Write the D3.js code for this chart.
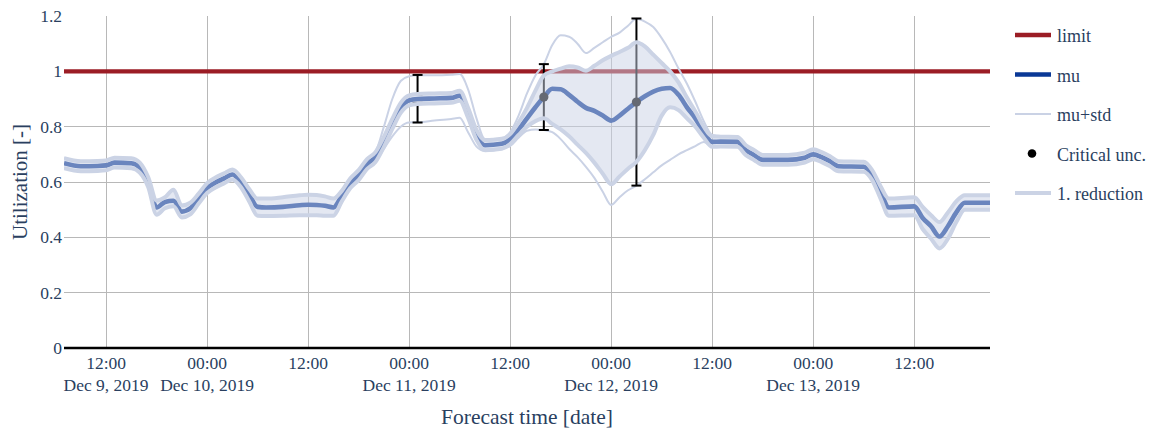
<!DOCTYPE html>
<html><head><meta charset="utf-8">
<script src="https://cdn.jsdelivr.net/npm/d3@7"></script>
<style>
body{margin:0;background:#fff}
svg{display:block}
</style>
</head><body>
<svg id="c" width="1151" height="432"></svg>
<script>
// ---------------- data ----------------
const times = [
"2019-12-09T07:00","2019-12-09T09:00","2019-12-09T11:00","2019-12-09T12:00","2019-12-09T13:00","2019-12-09T15:00",
"2019-12-09T16:00","2019-12-09T17:00","2019-12-09T18:00","2019-12-09T19:00","2019-12-09T20:00","2019-12-09T21:00",
"2019-12-09T22:00","2019-12-09T23:00","2019-12-10T00:00","2019-12-10T01:00","2019-12-10T02:00","2019-12-10T03:00",
"2019-12-10T04:00","2019-12-10T05:00","2019-12-10T06:00","2019-12-10T07:00","2019-12-10T09:00","2019-12-10T11:00",
"2019-12-10T12:00","2019-12-10T13:00","2019-12-10T14:00","2019-12-10T15:00","2019-12-10T16:00","2019-12-10T17:00",
"2019-12-10T18:00","2019-12-10T19:00","2019-12-10T20:00","2019-12-10T21:00","2019-12-10T22:00","2019-12-10T23:00",
"2019-12-11T00:00","2019-12-11T01:00","2019-12-11T03:00","2019-12-11T05:00","2019-12-11T06:00","2019-12-11T07:00",
"2019-12-11T08:00","2019-12-11T09:00","2019-12-11T11:00","2019-12-11T12:00","2019-12-11T13:00","2019-12-11T14:00",
"2019-12-11T15:00","2019-12-11T16:00","2019-12-11T17:00","2019-12-11T18:00","2019-12-11T19:00","2019-12-11T20:00",
"2019-12-11T21:00","2019-12-11T22:00","2019-12-11T23:00","2019-12-12T00:00","2019-12-12T01:00","2019-12-12T02:00",
"2019-12-12T03:00","2019-12-12T04:00","2019-12-12T05:00","2019-12-12T06:00","2019-12-12T07:00","2019-12-12T08:00",
"2019-12-12T09:00","2019-12-12T10:00","2019-12-12T11:00","2019-12-12T12:00","2019-12-12T13:00","2019-12-12T15:00",
"2019-12-12T16:00","2019-12-12T17:00","2019-12-12T18:00","2019-12-12T21:00","2019-12-12T23:00","2019-12-13T00:00",
"2019-12-13T01:00","2019-12-13T02:00","2019-12-13T03:00","2019-12-13T06:00","2019-12-13T07:00","2019-12-13T08:00",
"2019-12-13T09:00","2019-12-13T12:00","2019-12-13T13:00","2019-12-13T14:00","2019-12-13T15:00","2019-12-13T16:00",
"2019-12-13T17:00","2019-12-13T18:00","2019-12-13T21:00"
];
const mu = [
.668,.657,.658,.660,.670,.668,
.652,.600,.508,.528,.532,.493,
.505,.540,.578,.598,.613,.627,
.600,.555,.510,.508,.510,.516,
.518,.517,.514,.508,.550,.595,
.625,.665,.690,.745,.810,.868,
.895,.900,.902,.904,.912,.850,
.770,.733,.738,.755,.790,.830,
.870,.907,.937,.935,.915,.890,
.868,.857,.840,.822,.840,.865,
.889,.910,.927,.937,.940,.915,
.870,.830,.780,.745,.746,.745,
.715,.697,.680,.680,.688,.700,
.690,.675,.657,.655,.625,.565,
.508,.512,.470,.440,.403,.440,
.490,.525,.525
];
const redUpper = [
.686,.675,.676,.678,.688,.686,
.670,.618,.533,.545,.572,.515,
.525,.558,.596,.616,.631,.645,
.618,.575,.540,.540,.545,.552,
.554,.553,.548,.540,.568,.613,
.643,.683,.708,.763,.828,.886,
.913,.918,.920,.922,.930,.868,
.788,.751,.756,.773,.815,.868,
.930,.985,1.000,1.010,1.018,1.014,
1.002,1.020,1.040,1.056,1.070,1.085,
1.105,1.090,1.060,1.030,1.000,.960,
.905,.855,.800,.765,.764,.763,
.733,.715,.698,.698,.706,.718,
.708,.693,.675,.673,.643,.585,
.540,.545,.510,.480,.455,.490,
.530,.552,.552
];
const redLower = [
.650,.639,.640,.642,.652,.650,
.634,.582,.482,.505,.512,.472,
.483,.522,.560,.580,.595,.609,
.582,.530,.478,.477,.478,.480,
.480,.480,.478,.478,.530,.577,
.607,.647,.672,.727,.792,.850,
.877,.882,.884,.886,.894,.832,
.752,.715,.720,.737,.770,.800,
.820,.830,.810,.790,.765,.735,
.705,.670,.630,.592,.620,.648,
.673,.715,.770,.840,.870,.860,
.830,.800,.760,.727,.728,.727,
.697,.679,.662,.662,.670,.682,
.672,.657,.639,.637,.607,.540,
.478,.480,.430,.395,.360,.395,
.455,.500,.500
];
const stdUpper = [
.686,.675,.676,.678,.688,.686,
.670,.618,.533,.545,.572,.515,
.525,.558,.596,.616,.631,.645,
.618,.575,.540,.540,.545,.552,
.554,.553,.548,.540,.568,.613,
.643,.683,.708,.800,.900,.965,
.982,.986,.986,.988,.990,.935,
.830,.755,.756,.780,.840,.920,
.985,1.026,1.095,1.130,1.125,1.100,
1.066,1.085,1.105,1.125,1.140,1.165,
1.190,1.180,1.160,1.120,1.070,1.010,
.955,.890,.820,.770,.764,.763,
.733,.715,.698,.698,.706,.718,
.708,.693,.675,.673,.643,.585,
.540,.545,.510,.480,.455,.490,
.530,.552,.552
];
const stdLower = [
.650,.639,.640,.642,.652,.650,
.634,.582,.482,.505,.512,.472,
.483,.522,.560,.580,.595,.609,
.582,.530,.478,.477,.478,.480,
.480,.480,.478,.478,.530,.577,
.607,.647,.672,.720,.765,.800,
.815,.816,.822,.828,.832,.780,
.728,.712,.720,.730,.760,.785,
.790,.788,.780,.755,.720,.690,
.655,.615,.565,.517,.545,.570,
.587,.610,.635,.660,.680,.700,
.715,.730,.745,.727,.728,.727,
.697,.679,.662,.662,.670,.682,
.672,.657,.639,.637,.607,.540,
.478,.480,.430,.395,.360,.395,
.455,.500,.500
];
const limitValue = 1;
const critTimes = ["2019-12-11T01:00","2019-12-11T16:00","2019-12-12T03:00"];
const critMu = [0.901, 0.907, 0.889];
const critStd = [0.086, 0.119, 0.302];
const critGap = [0.015, 0, 0];
const critMarker = [false, true, true];
const yTicks = [0, 0.2, 0.4, 0.6, 0.8, 1, 1.2];
const xTickTimes = ["2019-12-09T12:00","2019-12-10T00:00","2019-12-10T12:00","2019-12-11T00:00","2019-12-11T12:00",
                    "2019-12-12T00:00","2019-12-12T12:00","2019-12-13T00:00","2019-12-13T12:00"];
const xDomain = ["2019-12-09T07:00","2019-12-13T21:00"];
const legendNames = ["limit","mu","mu+std","Critical unc.","1. reduction"];

// ---------------- drawing ----------------
const FONT = "'Liberation Serif'";
const parse = d3.timeParse("%Y-%m-%dT%H:%M");
const T = times.map(parse);
const L = 64, R = 990, TOP = 16, BOT = 348;
const x = d3.scaleTime().domain(xDomain.map(parse)).range([L, R]);
const y = d3.scaleLinear().domain([0, 1.2]).range([BOT, TOP]);

const COL = {
  text: "#2a3f5f", grid: "#b8b8b8", limit: "rgb(155,29,37)", mu: "rgb(10,56,150)",
  std: "rgb(202,210,229)", band: "rgb(203,211,229)", bandFill: "rgba(202,210,229,0.5)"
};

const svg = d3.select("#c");
const txt = (sel) => sel.style("font-family", FONT).attr("fill", COL.text);
svg.append("defs").append("clipPath").attr("id","clip")
  .append("rect").attr("x", L).attr("y", TOP - 10).attr("width", R - L).attr("height", BOT - TOP + 10);

// grid
const grid = svg.append("g").attr("shape-rendering", "crispEdges");
grid.selectAll("line.h").data(yTicks.filter(v => v > 0 && v < 1.2)).join("line")
  .attr("x1", L).attr("x2", R).attr("y1", d => y(d)).attr("y2", d => y(d))
  .attr("stroke", COL.grid).attr("stroke-width", 1);
grid.selectAll("line.v").data(xTickTimes.map(parse)).join("line")
  .attr("x1", d => x(d)).attr("x2", d => x(d)).attr("y1", TOP).attr("y2", BOT)
  .attr("stroke", COL.grid).attr("stroke-width", 1);

// y tick labels
svg.append("g").selectAll("text").data(yTicks).join("text")
  .attr("x", 62).attr("y", d => y(d) + 6).attr("text-anchor", "end")
  .attr("font-size", 17.5).call(txt).text(d => d3.format("~g")(d));

// x tick labels
const fmtT = d3.timeFormat("%H:%M"), fmtD = d3.timeFormat("%b %-d, %Y");
const xt = svg.append("g");
xTickTimes.map(parse).forEach((d, i) => {
  xt.append("text").attr("x", x(d)).attr("y", 368.5).attr("text-anchor", "middle")
    .attr("font-size", 17.5).call(txt).text(fmtT(d));
  if (i === 0 || d.getHours() === 0) {
    xt.append("text").attr("x", x(d)).attr("y", 391).attr("text-anchor", "middle")
      .attr("font-size", 17.5).call(txt).text(fmtD(d));
  }
});

// axis titles
svg.append("text").attr("x", (L + R) / 2).attr("y", 424).attr("text-anchor", "middle")
  .attr("font-size", 21.5).call(txt).text("Forecast time [date]");
svg.append("text").attr("transform", `translate(27,${(TOP + BOT) / 2}) rotate(-90)`)
  .attr("text-anchor", "middle").attr("font-size", 21).call(txt).text("Utilization [-]");

const plot = svg.append("g").attr("clip-path", "url(#clip)");
const curve = d3.curveMonotoneX;
const lineOf = arr => d3.line().x((d, i) => x(T[i])).y((d, i) => y(arr[i])).curve(curve)(arr);

// limit
plot.append("line").attr("x1", L).attr("x2", R).attr("y1", y(limitValue)).attr("y2", y(limitValue))
  .attr("stroke", COL.limit).attr("stroke-width", 4.3);

// mu
plot.append("path").attr("d", lineOf(mu)).attr("fill", "none")
  .attr("stroke", COL.mu).attr("stroke-width", 4.6).attr("stroke-linejoin", "round");

// mu +/- std
[stdUpper, stdLower].forEach(a => plot.append("path").attr("d", lineOf(a)).attr("fill", "none")
  .attr("stroke", COL.std).attr("stroke-width", 2));

// critical uncertainty error bars
const crit = svg.append("g");
critTimes.map(parse).forEach((t, i) => {
  const cx = x(t), m = critMu[i], s = critStd[i], g = critGap[i];
  const segs = g > 0 ? [[m + g, m + s], [m - s, m - g]] : [[m - s, m + s]];
  segs.forEach(([a, b]) => {
    crit.append("line").attr("x1", cx).attr("x2", cx).attr("y1", y(a)).attr("y2", y(b))
      .attr("stroke", "#000").attr("stroke-width", 2);
    [a, b].forEach(v => crit.append("line").attr("x1", cx - 5).attr("x2", cx + 5)
      .attr("y1", y(v)).attr("y2", y(v)).attr("stroke", "#000").attr("stroke-width", 2));
  });
  if (critMarker[i]) crit.append("circle").attr("cx", cx).attr("cy", y(m)).attr("r", 4.6).attr("fill", "#000");
});

// 1. reduction band (drawn on top)
const band = svg.append("g").attr("clip-path", "url(#clip)");
band.append("path")
  .attr("d", d3.area().x((d, i) => x(T[i])).y0((d, i) => y(redLower[i])).y1((d, i) => y(redUpper[i])).curve(curve)(mu))
  .attr("fill", COL.bandFill);
[redUpper, redLower].forEach(a => band.append("path").attr("d", lineOf(a)).attr("fill", "none")
  .attr("stroke", COL.band).attr("stroke-width", 4).attr("stroke-linejoin", "round"));

// x axis line
svg.append("line").attr("x1", L).attr("x2", R).attr("y1", BOT).attr("y2", BOT)
  .attr("stroke", "#000").attr("stroke-width", 2.6);

// legend
const rows = [35, 74.5, 114, 153.5, 193];
const lg = svg.append("g");
const legStyle = [
  {c: COL.limit, w: 4.3}, {c: COL.mu, w: 4.3}, {c: COL.std, w: 2}, null, {c: COL.band, w: 4}
];
legendNames.forEach((name, i) => {
  const ry = rows[i];
  if (legStyle[i]) lg.append("line").attr("x1", 1015).attr("x2", 1051).attr("y1", ry).attr("y2", ry)
      .attr("stroke", legStyle[i].c).attr("stroke-width", legStyle[i].w);
  else lg.append("circle").attr("cx", 1032).attr("cy", ry).attr("r", 4.3).attr("fill", "#000");
  lg.append("text").attr("x", 1057).attr("y", ry + 7).attr("font-size", 18).call(txt).text(name);
});
</script>
</body></html>
